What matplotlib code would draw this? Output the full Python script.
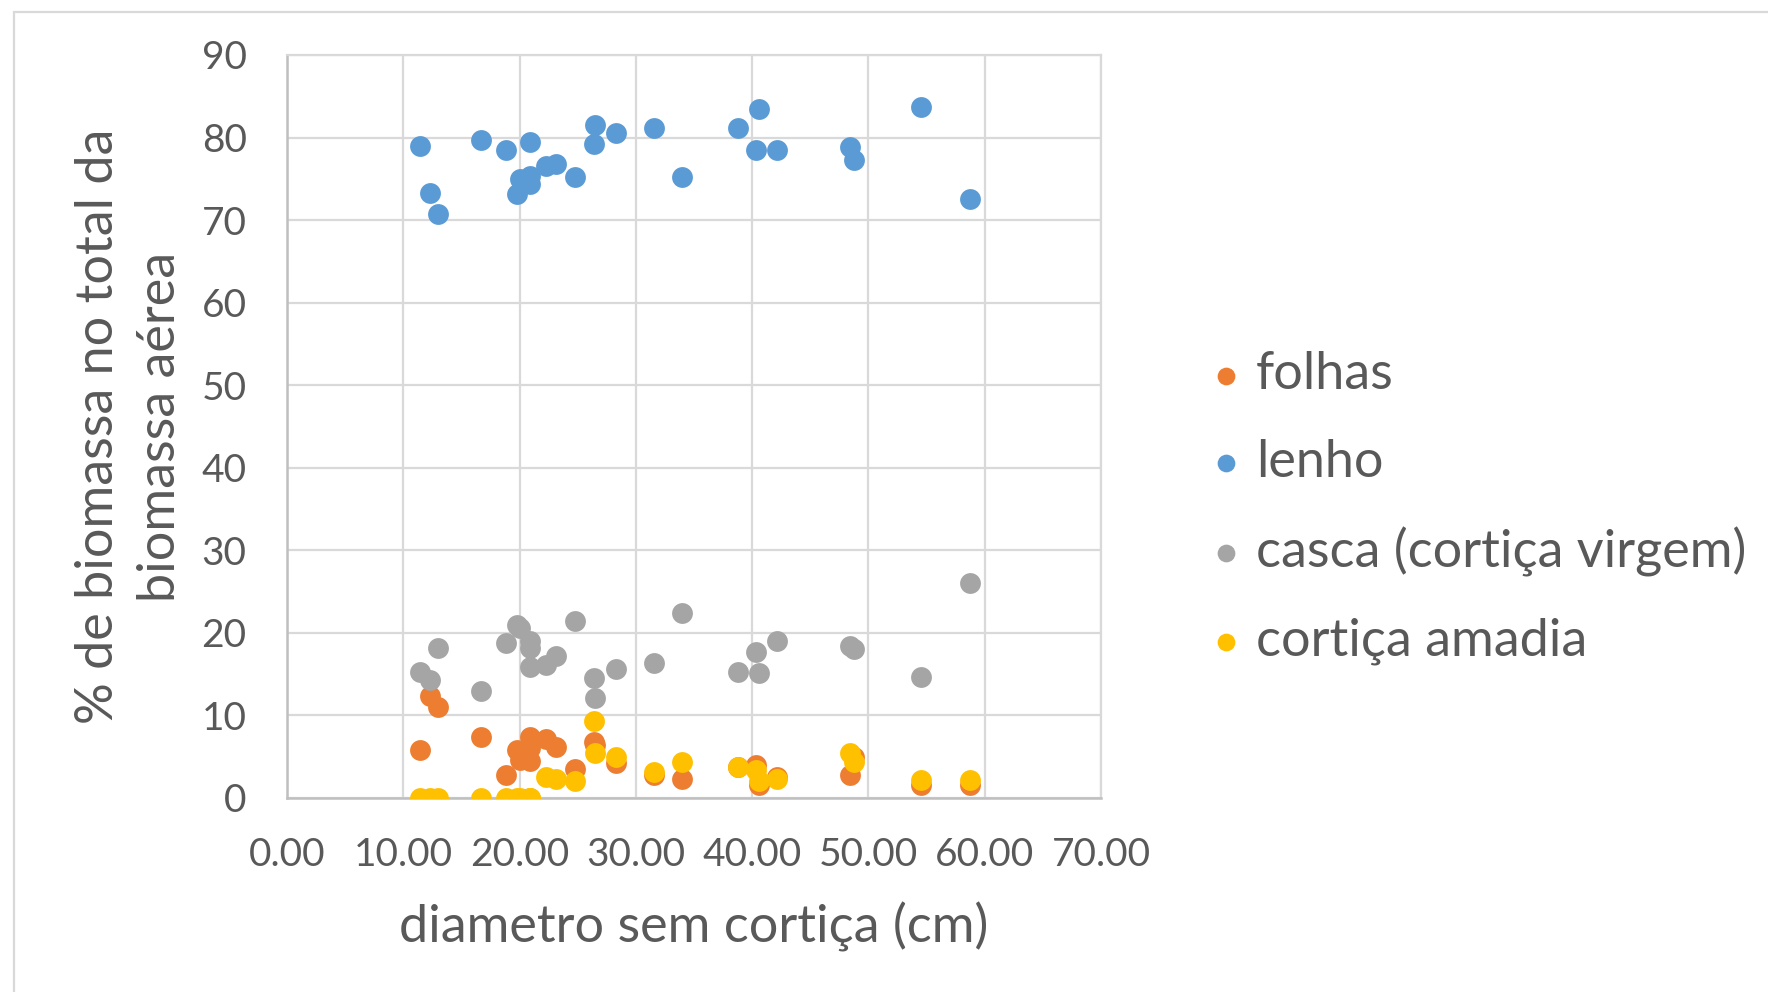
import matplotlib
matplotlib.use("Agg")
import matplotlib.pyplot as plt
from matplotlib.patches import Rectangle

plt.rcParams['font.family'] = ['Lato', 'DejaVu Sans']

diametro = [11.4, 12.3, 13.0, 16.7, 18.8, 19.8, 20.0, 20.9, 20.9, 20.9, 22.3, 23.1, 24.8,
            26.4, 26.5, 28.3, 31.6, 34.0, 38.8, 40.3, 40.6, 42.1, 48.4, 48.8, 54.5, 58.7]
folhas = [5.8, 12.3, 11.0, 7.4, 2.8, 5.8, 4.6, 7.4, 6.0, 4.5, 7.1, 6.2, 3.5,
          6.8, 6.4, 4.2, 2.8, 2.3, 3.8, 4.0, 1.6, 2.6, 2.8, 5.0, 1.6, 1.6]
lenho = [79.0, 73.3, 70.8, 79.7, 78.5, 73.2, 75.0, 79.5, 75.3, 74.4, 76.6, 76.8, 75.2,
         79.2, 81.5, 80.5, 81.1, 75.2, 81.1, 78.5, 83.5, 78.5, 78.9, 77.3, 83.7, 72.6]
casca = [15.3, 14.3, 18.2, 13.0, 18.8, 21.0, 20.6, 19.0, 18.2, 15.9, 16.1, 17.2, 21.5,
         14.5, 12.1, 15.6, 16.4, 22.4, 15.3, 17.7, 15.2, 19.0, 18.4, 18.0, 14.7, 26.0]
cortica_amadia = [0, 0, 0, 0, 0, 0, 0, 0, 0, 0, 2.6, 2.3, 2.0,
                  9.3, 5.4, 5.0, 3.2, 4.4, 3.7, 3.4, 2.0, 2.3, 5.4, 4.4, 2.2, 2.2]

series_names = ["folhas", "lenho", "casca (cortiça virgem)", "cortiça amadia"]
series_values = [folhas, lenho, casca, cortica_amadia]
colors = ["#ED7D31", "#5B9BD5", "#A5A5A5", "#FFC000"]

x_ticks = [0, 10, 20, 30, 40, 50, 60, 70]
y_ticks = [0, 10, 20, 30, 40, 50, 60, 70, 80, 90]

TXT = "#595959"
W, H = 1768, 992
fig = plt.figure(figsize=(W / 100, H / 100), dpi=100)

# chart-area border
fig.patches.append(Rectangle((14 / W, -0.05), 1.1, 1 - 12 / H + 0.05, transform=fig.transFigure,
                             fill=False, edgecolor="#D9D9D9", linewidth=1.6))

ax = fig.add_axes([287 / W, 1 - 798 / H, (1101 - 287) / W, (798 - 55) / H])

for name, vals, c in zip(series_names, series_values, colors):
    ax.scatter(diametro, vals, s=225, color=c, label=name, linewidths=0, zorder=3)

ax.set_xlim(0, 70)
ax.set_ylim(0, 90)
ax.set_xticks(x_ticks)
ax.set_yticks(y_ticks)
ax.set_xticklabels([f"{v:.2f}" for v in x_ticks])
ax.set_yticklabels([str(v) for v in y_ticks])
ax.grid(True, color="#D9D9D9", linewidth=1.6, zorder=0)
ax.set_axisbelow(True)
for s in ["top", "right"]:
    ax.spines[s].set_color("#D9D9D9")
    ax.spines[s].set_linewidth(1.6)
for s in ["left", "bottom"]:
    ax.spines[s].set_color("#BFBFBF")
    ax.spines[s].set_linewidth(1.8)
ax.tick_params(length=0, labelsize=28, labelcolor=TXT)
ax.tick_params(axis="x", pad=28)
ax.tick_params(axis="y", pad=29)

ax.set_xlabel("diametro sem cortiça (cm)", fontsize=37.5, color=TXT, labelpad=21)
ax.set_ylabel("% de biomassa no total da\nbiomassa aérea", fontsize=37.5, color=TXT,
              linespacing=1.39)
ax.yaxis.label.set_va("center")
ax.yaxis.set_label_coords(-0.193, 0.5)

leg = ax.legend(loc="center left", bbox_to_anchor=(1205 / W, 1 - 508 / H),
                bbox_transform=fig.transFigure, frameon=False, fontsize=37.5,
                markerscale=0.85, handletextpad=0.18, labelspacing=0.78,
                handlelength=0.8, borderpad=0, borderaxespad=0)
for t in leg.get_texts():
    t.set_color(TXT)

fig.savefig("out.png", dpi=100, facecolor="white")
